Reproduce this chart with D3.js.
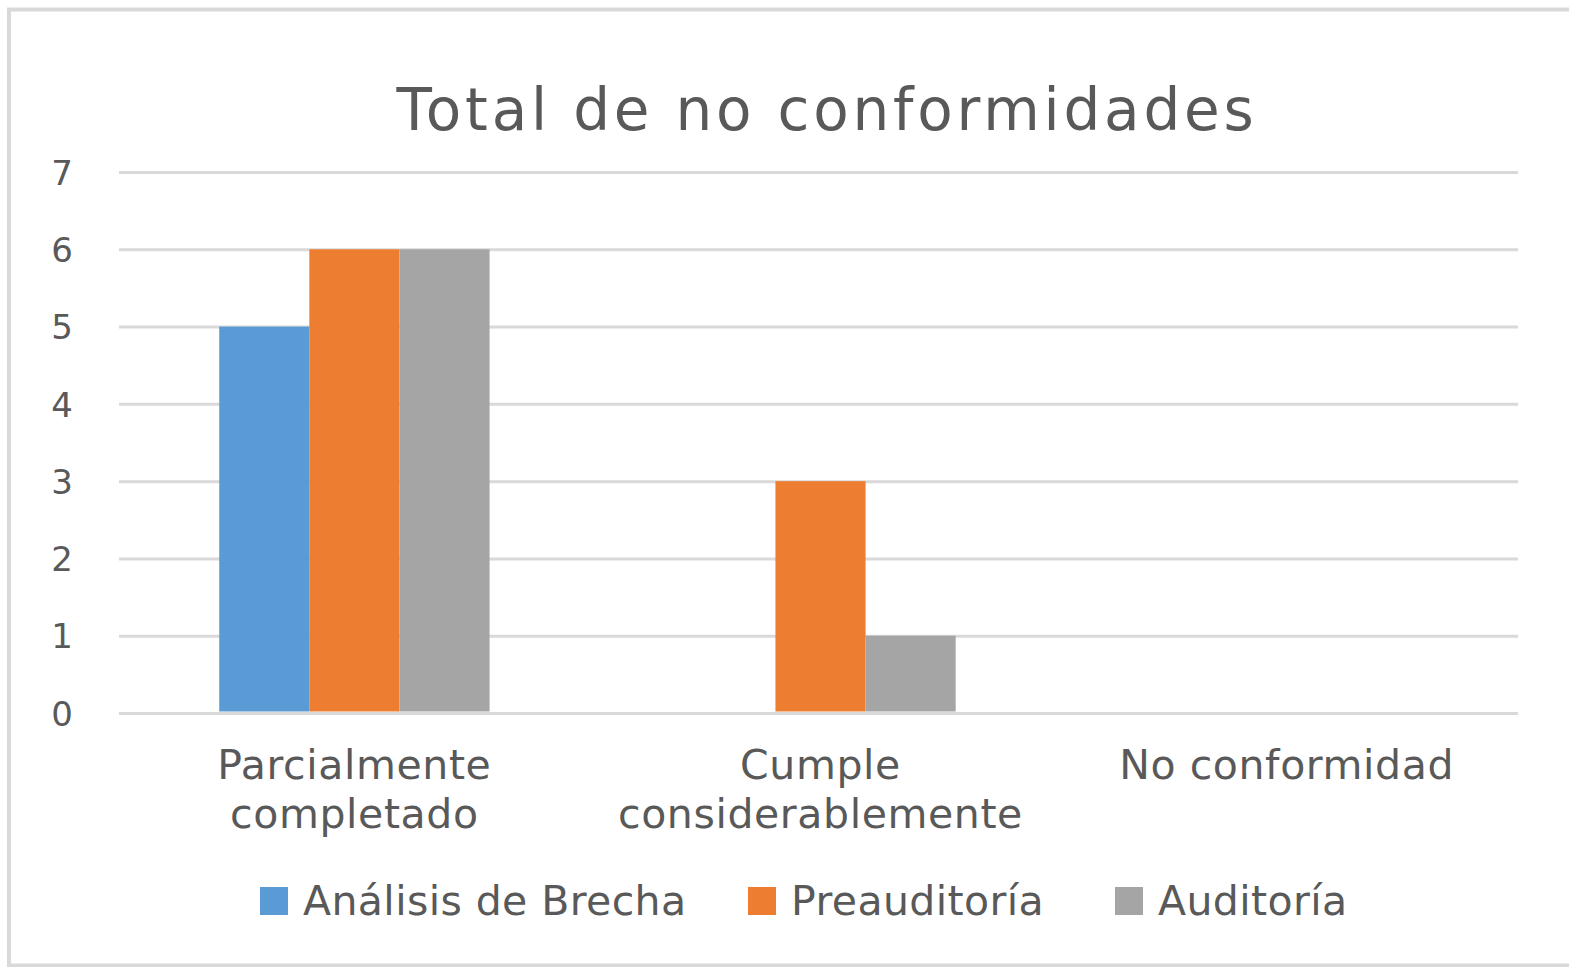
<!DOCTYPE html>
<html>
<head>
<meta charset="utf-8">
<script src="https://cdn.jsdelivr.net/npm/d3@7"></script>
<style>
  body { margin: 0; background: #fff; }
  text { font-family: "DejaVu Sans", sans-serif; fill: #595959; }
</style>
</head>
<body>
<div id="chart-area"></div>
<script>
const categories = ["Parcialmente completado", "Cumple considerablemente", "No conformidad"]
const categoryLines = [["Parcialmente", "completado"], ["Cumple", "considerablemente"], ["No conformidad"]]
const series = ["Análisis de Brecha", "Preauditoría", "Auditoría"]
const colors = ["#5b9bd5", "#ed7d31", "#a5a5a5"]
const analisisValues = [5, 0, 0]
const preauditoriaValues = [6, 3, 0]
const auditoriaValues = [6, 1, 0]
const yTicks = [0, 1, 2, 3, 4, 5, 6, 7]
const title = "Total de no conformidades"

const valuesBySeries = [analisisValues, preauditoriaValues, auditoriaValues]

const W = 1569, H = 967
const PLOT = { LEFT: 119, RIGHT: 1518, TOP: 172, BOTTOM: 713 }

const svg = d3.select("#chart-area").append("svg")
    .attr("width", W)
    .attr("height", H)

// outer frame
svg.append("rect")
    .attr("x", 9)
    .attr("y", 9.5)
    .attr("width", W + 10)
    .attr("height", 956)
    .attr("fill", "#fff")
    .attr("stroke", "#d9d9d9")
    .attr("stroke-width", 4)

// Scales
const x = d3.scaleBand()
    .domain(categories)
    .range([PLOT.LEFT, PLOT.RIGHT + 4])
    .paddingInner(0.42)
    .paddingOuter(0.215)

const xSub = d3.scaleBand()
    .domain(series)
    .range([0, x.bandwidth()])

const y = d3.scaleLinear()
    .domain([0, 7])
    .range([PLOT.BOTTOM, PLOT.TOP])

// Gridlines
const grid = svg.append("g")
    .attr("transform", `translate(${PLOT.LEFT}, 0)`)
    .call(d3.axisLeft(y).tickValues(yTicks).tickSize(-(PLOT.RIGHT - PLOT.LEFT)).tickFormat(""))
grid.select(".domain").remove()
grid.selectAll("line").attr("stroke", "#d9d9d9").attr("stroke-width", 3)

// Y axis labels
const yAxis = svg.append("g")
    .attr("transform", `translate(${PLOT.LEFT}, 0)`)
    .call(d3.axisLeft(y).tickValues(yTicks).tickSize(0).tickPadding(46).tickFormat(d3.format("d")))
yAxis.select(".domain").remove()
yAxis.selectAll("text")
    .attr("font-size", "34px")
    .attr("font-family", "DejaVu Sans")
    .attr("fill", "#595959")
    .attr("dy", "0.36em")

// Bars
const groups = svg.append("g").selectAll("g")
    .data(categories)
    .enter().append("g")
    .attr("transform", d => `translate(${x(d)}, 0)`)

groups.selectAll("rect")
    .data((d, i) => series.map((s, j) => ({ s: s, v: valuesBySeries[j][i], c: colors[j] })))
    .enter().append("rect")
    .attr("x", d => xSub(d.s))
    .attr("width", xSub.bandwidth())
    .attr("y", d => y(d.v))
    .attr("height", d => y(0) - y(d.v) - 1.5)
    .attr("fill", d => d.c)
    .attr("display", d => d.v > 0 ? null : "none")

// Category labels
const catLabels = svg.append("g").selectAll("text")
    .data(categories)
    .enter().append("text")
    .attr("text-anchor", "middle")
    .attr("font-size", "41px")
    .attr("letter-spacing", "0.6px")
    .attr("y", 779)

catLabels.selectAll("tspan")
    .data((d, i) => categoryLines[i])
    .enter().append("tspan")
    .attr("x", function() { const c = d3.select(this.parentNode).datum(); return x(c) + x.bandwidth() / 2 })
    .attr("dy", (d, i) => i === 0 ? 0 : 49)
    .text(d => d)

// Title
svg.append("text")
    .attr("x", 827)
    .attr("y", 130)
    .attr("text-anchor", "middle")
    .attr("font-size", "58px")
    .attr("letter-spacing", "3.8px")
    .text(title)

// Legend
const legendX = [260, 748, 1115]
const legend = svg.append("g").selectAll("g")
    .data(series)
    .enter().append("g")
    .attr("transform", (d, i) => `translate(${legendX[i]}, 887)`)

legend.append("rect")
    .attr("width", 28)
    .attr("height", 28)
    .attr("fill", (d, i) => colors[i])

legend.append("text")
    .attr("x", 43)
    .attr("y", 28)
    .attr("font-size", "41px")
    .attr("letter-spacing", "0.4px")
    .text(d => d)
</script>
</body>
</html>
